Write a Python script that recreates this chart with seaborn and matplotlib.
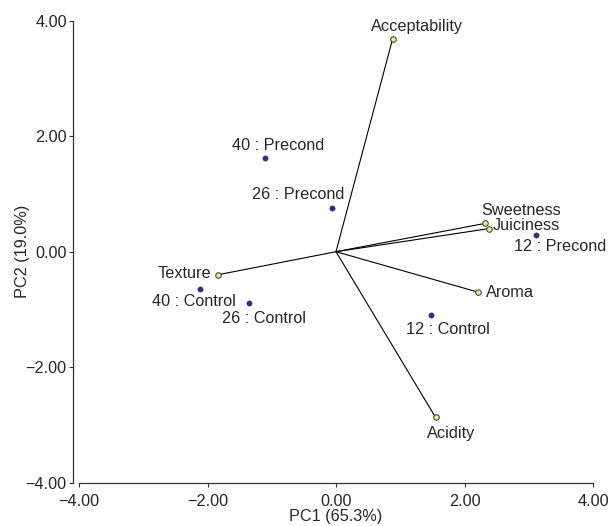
import numpy as np
import pandas as pd
import matplotlib
matplotlib.use("Agg")
import matplotlib.pyplot as plt
import seaborn as sns
from matplotlib.ticker import FuncFormatter, MultipleLocator

# sample scores (PC1, PC2)
score_labels = ["40 : Precond", "26 : Precond", "12 : Precond",
                "40 : Control", "26 : Control", "12 : Control"]
score_pc1 = [-1.10, -0.06, 3.12, -2.12, -1.36, 1.48]
score_pc2 = [1.62, 0.75, 0.29, -0.65, -0.88, -1.10]

# attribute loadings (PC1, PC2)
load_labels = ["Acceptability", "Sweetness", "Juiciness", "Aroma", "Acidity", "Texture"]
load_pc1 = [0.88, 2.32, 2.38, 2.21, 1.55, -1.84]
load_pc2 = [3.68, 0.49, 0.40, -0.70, -2.87, -0.40]

# label placement: (dx px, dy px, ha)
label_pos = {
    "40 : Precond": (13, 13, "center"),
    "26 : Precond": (-34, 14, "center"),
    "12 : Precond": (24, -12, "center"),
    "40 : Control": (-6, -12, "center"),
    "26 : Control": (15, -16, "center"),
    "12 : Control": (17, -14, "center"),
    "Acceptability": (24, 13, "center"),
    "Sweetness": (36, 13, "center"),
    "Juiciness": (4, 3, "left"),
    "Aroma": (8, 0, "left"),
    "Acidity": (16, -16, "center"),
    "Texture": (-7, 1, "right"),
}

df_scores = pd.DataFrame({"label": score_labels, "PC1": score_pc1, "PC2": score_pc2})
df_load = pd.DataFrame({"label": load_labels, "PC1": load_pc1, "PC2": load_pc2})

sns.set_theme(style="ticks")
plt.rcParams["font.family"] = ["Liberation Sans", "DejaVu Sans"]
text_color = "#262626"

fig = plt.figure(figsize=(6.09, 5.26), dpi=100)
ax = fig.add_axes([79 / 609, 1 - 482.7 / 526, (593 - 79) / 609, (482.7 - 20.7) / 526])

# loading vectors from origin
for _, r in df_load.iterrows():
    ax.plot([0, r["PC1"]], [0, r["PC2"]], color="black", lw=0.8, zorder=1)

sns.scatterplot(data=df_load, x="PC1", y="PC2", ax=ax, color="#f3e68c",
                edgecolor="#333333", linewidth=0.7, s=16, zorder=3, legend=False)
sns.scatterplot(data=df_scores, x="PC1", y="PC2", ax=ax, color="#2c2f7c",
                edgecolor="#2c2f7c", linewidth=0.3, s=15, zorder=3, legend=False)

for df in (df_scores, df_load):
    for _, r in df.iterrows():
        dx, dy, ha = label_pos[r["label"]]
        ax.annotate(r["label"], (r["PC1"], r["PC2"]), xytext=(dx, dy),
                    textcoords="offset pixels", ha=ha, va="center",
                    fontsize=11.7, color=text_color)

ax.set_xlim(-4, 4)
ax.set_ylim(-4, 4)
ax.xaxis.set_major_locator(MultipleLocator(2))
ax.yaxis.set_major_locator(MultipleLocator(2))
fmt = FuncFormatter(lambda v, p: f"{abs(v):.2f}" if abs(v) < 1e-9 else f"{v:.2f}".replace("-", "\u2212"))
ax.xaxis.set_major_formatter(fmt)
ax.yaxis.set_major_formatter(fmt)

ax.set_xlabel("PC1 (65.3%)", fontsize=11.7, color=text_color, labelpad=0)
ax.set_ylabel("PC2 (19.0%)", fontsize=11.7, color=text_color, labelpad=-3)

sns.despine(ax=ax)
ax.spines["left"].set_position(("outward", 4.3))
for s in ("left", "bottom"):
    ax.spines[s].set_linewidth(0.9)
    ax.spines[s].set_color("#333333")
ax.tick_params(axis="both", length=3, width=0.8, labelsize=11.7,
               colors="#333333", labelcolor=text_color)
ax.tick_params(axis="x", pad=5)
ax.tick_params(axis="y", pad=1.5)

fig.savefig("out.png", dpi=100)
